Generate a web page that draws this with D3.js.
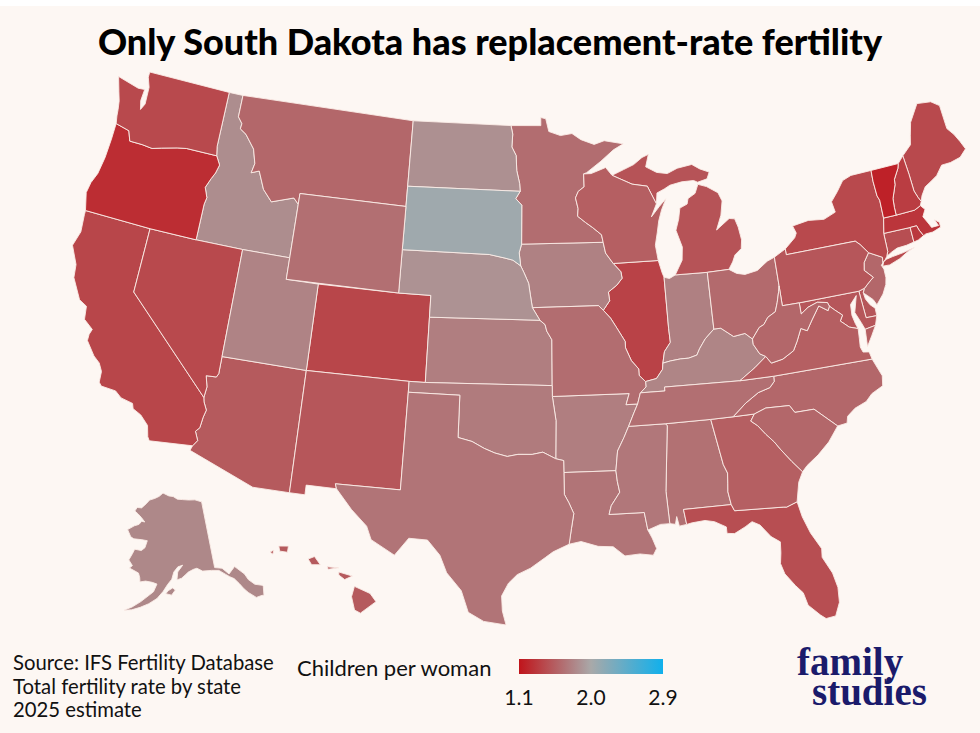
<!DOCTYPE html>
<html>
<head>
<meta charset="utf-8">
<script src="https://cdn.jsdelivr.net/npm/d3@7"></script>
<style>
  body { margin: 0; background: #ffffff; }
  text { font-family: Lato, "Open Sans", sans-serif; }
</style>
</head>
<body>
<svg id="chart" width="980" height="733"></svg>
<script>
// Total fertility rate by state, 2025 estimate
const states = ["AL","AK","AZ","AR","CA","CO","CT","DE","FL","GA","HI","ID","IL","IN","IA","KS","KY",
                "LA","ME","MD","MA","MI","MN","MS","MO","MT","NE","NV","NH","NJ","NM","NY","NC","ND",
                "OH","OK","OR","PA","RI","SC","SD","TN","TX","UT","VT","VA","WA","WV","WI","WY"];
const tfr = [1.66,1.80,1.52,1.74,1.40,1.40,1.45,1.50,1.45,1.55,1.52,1.83,1.38,1.75,1.76,1.74,1.78,
             1.68,1.42,1.50,1.30,1.48,1.64,1.70,1.64,1.60,1.86,1.42,1.35,1.60,1.50,1.42,1.60,1.85,
             1.62,1.72,1.25,1.50,1.32,1.60,2.06,1.65,1.68,1.77,1.18,1.55,1.42,1.60,1.55,1.65];

const colorDomain = [1.1, 2.0, 2.9];
const tickLabels = ["1.1", "2.0", "2.9"];
const sourceLines = ["Source: IFS Fertility Database", "Total fertility rate by state", "2025 estimate"];
const logoLines = ["family", "studies"];

// Simplified state outlines, [lon, lat] rings
const outlines = {
  WA: [[[-124.73,48.38],[-123.2,48.12],[-122.75,48.15],[-122.8,47.6],[-122.65,47.2],[-122.45,47.5],[-122.5,48.3],[-122.75,48.75],[-122.75,49.0],[-117.03,49.0],[-117.03,46.42],[-116.92,45.99],[-118.98,46.0],[-119.6,45.92],[-120.6,45.73],[-121.2,45.6],[-121.9,45.65],[-122.75,45.65],[-123.0,46.1],[-123.95,46.25],[-124.05,46.6],[-124.1,46.9],[-124.2,47.3],[-124.4,47.7]]],
  OR: [[[-123.95,46.25],[-123.0,46.1],[-122.75,45.65],[-121.9,45.65],[-121.2,45.6],[-120.6,45.73],[-119.6,45.92],[-118.98,46.0],[-116.92,45.99],[-116.6,45.6],[-116.75,45.2],[-116.95,44.9],[-117.2,44.45],[-116.95,44.0],[-117.03,43.68],[-117.03,42.0],[-120.0,42.0],[-124.21,42.0],[-124.5,42.8],[-124.4,43.3],[-124.15,43.8],[-124.0,44.6],[-123.95,45.5]]],
  ID: [[[-117.03,49.0],[-116.05,49.0],[-116.05,47.98],[-115.72,47.7],[-115.75,47.45],[-115.3,47.25],[-114.6,46.65],[-114.33,46.0],[-114.45,45.55],[-113.95,45.7],[-113.45,44.9],[-112.8,44.4],[-111.4,44.75],[-111.05,44.5],[-111.05,42.0],[-114.05,42.0],[-117.03,42.0],[-117.03,43.68],[-116.95,44.0],[-117.2,44.45],[-116.95,44.9],[-116.75,45.2],[-116.6,45.6],[-116.92,45.99],[-117.03,46.42]]],
  MT: [[[-116.05,49.0],[-104.05,49.0],[-104.05,45.0],[-111.05,45.0],[-111.05,44.5],[-111.4,44.75],[-112.8,44.4],[-113.45,44.9],[-113.95,45.7],[-114.45,45.55],[-114.33,46.0],[-114.6,46.65],[-115.3,47.25],[-115.75,47.45],[-115.72,47.7],[-116.05,47.98]]],
  WY: [[[-111.05,45.0],[-104.05,45.0],[-104.05,43.0],[-104.05,41.0],[-111.05,41.0],[-111.05,42.0],[-111.05,44.5]]],
  UT: [[[-114.05,42.0],[-111.05,42.0],[-111.05,41.0],[-109.05,41.0],[-109.05,37.0],[-114.05,37.0]]],
  NV: [[[-120.0,42.0],[-117.03,42.0],[-114.05,42.0],[-114.05,37.0],[-114.05,36.2],[-114.15,36.03],[-114.74,36.0],[-114.57,35.5],[-114.63,35.0],[-120.0,39.0]]],
  CA: [[[-124.21,42.0],[-120.0,42.0],[-120.0,39.0],[-114.63,35.0],[-114.57,34.8],[-114.35,34.45],[-114.45,34.1],[-114.52,33.6],[-114.72,33.4],[-114.5,33.0],[-114.72,32.72],[-117.12,32.53],[-117.25,32.7],[-117.4,33.2],[-117.9,33.6],[-118.4,33.8],[-118.5,34.03],[-119.2,34.15],[-119.6,34.4],[-120.45,34.45],[-120.62,34.6],[-120.65,35.1],[-120.9,35.45],[-121.3,35.7],[-121.9,36.3],[-121.9,36.6],[-121.8,36.85],[-122.4,37.2],[-122.5,37.8],[-123.0,38.0],[-123.7,38.9],[-123.8,39.5],[-124.35,40.3],[-124.1,41.0],[-124.2,41.8]]],
  AZ: [[[-114.05,37.0],[-109.05,37.0],[-109.05,31.33],[-111.07,31.33],[-114.81,32.49],[-114.72,32.72],[-114.5,33.0],[-114.72,33.4],[-114.52,33.6],[-114.45,34.1],[-114.35,34.45],[-114.57,34.8],[-114.63,35.0],[-114.57,35.5],[-114.74,36.0],[-114.15,36.03],[-114.05,36.2]]],
  CO: [[[-109.05,41.0],[-104.05,41.0],[-102.05,41.0],[-102.05,40.0],[-102.05,37.0],[-103.0,37.0],[-109.05,37.0]]],
  NM: [[[-109.05,37.0],[-103.0,37.0],[-103.0,36.5],[-103.04,32.0],[-106.62,32.0],[-106.53,31.78],[-108.2,31.78],[-108.2,31.33],[-109.05,31.33]]],
  TX: [[[-103.0,36.5],[-100.0,36.5],[-100.0,34.56],[-99.2,34.4],[-98.5,34.1],[-97.9,33.9],[-97.2,33.75],[-96.6,33.85],[-95.8,33.85],[-95.2,33.95],[-94.48,33.64],[-94.04,33.55],[-94.04,33.0],[-94.04,31.99],[-93.8,31.6],[-93.55,31.1],[-93.7,30.4],[-93.84,29.69],[-94.7,29.35],[-95.1,29.1],[-95.9,28.6],[-96.6,28.3],[-97.05,27.9],[-97.4,27.3],[-97.35,26.6],[-97.15,25.95],[-98.3,26.1],[-99.1,26.5],[-99.5,27.5],[-100.3,28.3],[-100.7,29.1],[-101.4,29.77],[-102.4,29.8],[-103.1,28.97],[-104.4,29.6],[-104.7,30.2],[-105.6,30.9],[-106.53,31.78],[-106.62,32.0],[-103.04,32.0]]],
  OK: [[[-103.0,37.0],[-102.05,37.0],[-94.62,37.0],[-94.62,36.5],[-94.43,35.39],[-94.48,33.64],[-95.2,33.95],[-95.8,33.85],[-96.6,33.85],[-97.2,33.75],[-97.9,33.9],[-98.5,34.1],[-99.2,34.4],[-100.0,34.56],[-100.0,36.5],[-103.0,36.5]]],
  KS: [[[-102.05,40.0],[-95.31,40.0],[-95.0,39.8],[-94.9,39.5],[-94.6,39.1],[-94.62,37.0],[-102.05,37.0]]],
  NE: [[[-104.05,43.0],[-98.5,43.0],[-97.5,42.85],[-97.0,42.76],[-96.5,42.5],[-96.3,42.2],[-96.0,41.7],[-95.9,41.2],[-95.77,40.58],[-95.31,40.0],[-102.05,40.0],[-102.05,41.0],[-104.05,41.0]]],
  SD: [[[-104.05,45.94],[-96.56,45.94],[-96.85,45.6],[-96.45,45.3],[-96.45,43.5],[-96.6,43.1],[-96.5,42.5],[-97.0,42.76],[-97.5,42.85],[-98.5,43.0],[-104.05,43.0]]],
  ND: [[[-104.05,49.0],[-97.23,49.0],[-97.1,48.6],[-97.15,48.0],[-96.85,47.6],[-96.8,46.9],[-96.6,46.3],[-96.56,45.94],[-104.05,45.94]]],
  MN: [[[-97.23,49.0],[-95.15,49.0],[-95.15,49.38],[-94.8,49.32],[-94.6,48.72],[-93.8,48.52],[-93.0,48.6],[-92.4,48.3],[-91.5,48.05],[-90.8,48.2],[-89.5,48.0],[-90.2,47.75],[-91.1,47.25],[-92.1,46.75],[-92.3,46.7],[-92.3,46.1],[-92.7,45.9],[-92.9,45.6],[-92.75,45.1],[-92.8,44.75],[-92.3,44.45],[-91.85,44.2],[-91.3,43.85],[-91.22,43.5],[-96.45,43.5],[-96.45,45.3],[-96.85,45.6],[-96.56,45.94],[-96.6,46.3],[-96.8,46.9],[-96.85,47.6],[-97.15,48.0],[-97.1,48.6]]],
  IA: [[[-96.45,43.5],[-91.22,43.5],[-91.1,43.0],[-90.65,42.5],[-90.2,42.1],[-90.15,41.8],[-90.5,41.5],[-91.05,41.2],[-91.0,40.8],[-91.42,40.38],[-91.7,40.6],[-95.77,40.58],[-95.9,41.2],[-96.0,41.7],[-96.3,42.2],[-96.5,42.5],[-96.6,43.1]]],
  MO: [[[-95.77,40.58],[-91.7,40.6],[-91.42,40.38],[-91.0,40.0],[-90.7,39.6],[-90.2,38.9],[-90.2,38.6],[-89.9,38.0],[-89.5,37.6],[-89.5,37.3],[-89.15,37.0],[-89.15,36.75],[-89.5,36.5],[-89.7,36.0],[-90.37,36.0],[-90.15,36.5],[-94.62,36.5],[-94.62,37.0],[-94.6,39.1],[-94.9,39.5],[-95.0,39.8],[-95.31,40.0]]],
  AR: [[[-94.62,36.5],[-90.15,36.5],[-90.37,36.0],[-89.7,36.0],[-89.95,35.6],[-90.3,35.0],[-90.6,34.5],[-91.0,33.9],[-91.15,33.0],[-94.04,33.0],[-94.04,33.55],[-94.48,33.64],[-94.43,35.39]]],
  LA: [[[-94.04,33.0],[-91.15,33.0],[-91.1,32.5],[-91.0,32.0],[-91.5,31.4],[-91.64,31.0],[-89.73,31.0],[-89.6,30.18],[-89.4,29.8],[-89.2,29.3],[-89.4,29.0],[-90.1,29.1],[-90.9,29.05],[-91.5,29.5],[-92.3,29.55],[-93.2,29.8],[-93.84,29.69],[-93.7,30.4],[-93.55,31.1],[-93.8,31.6],[-94.04,31.99]]],
  MS: [[[-90.3,35.0],[-88.2,35.0],[-88.1,34.9],[-88.47,31.9],[-88.4,30.4],[-88.9,30.4],[-89.6,30.18],[-89.73,31.0],[-91.64,31.0],[-91.5,31.4],[-91.0,32.0],[-91.1,32.5],[-91.15,33.0],[-91.0,33.9],[-90.6,34.5]]],
  TN: [[[-90.3,35.0],[-89.95,35.6],[-89.7,36.0],[-89.5,36.5],[-88.07,36.5],[-88.07,36.68],[-83.67,36.6],[-81.68,36.59],[-81.7,36.35],[-82.0,36.1],[-82.7,35.95],[-83.5,35.55],[-84.32,35.0],[-85.6,35.0],[-88.2,35.0]]],
  KY: [[[-89.15,37.0],[-88.5,37.1],[-88.1,37.5],[-88.05,37.78],[-87.6,37.85],[-87.0,37.9],[-86.5,37.9],[-86.0,38.0],[-85.8,38.28],[-85.4,38.7],[-84.82,39.1],[-84.4,39.1],[-83.7,38.65],[-83.0,38.72],[-82.6,38.42],[-82.6,38.17],[-82.3,37.7],[-81.97,37.54],[-82.7,37.1],[-83.67,36.6],[-88.07,36.68],[-88.07,36.5],[-89.5,36.5],[-89.15,36.75]]],
  IL: [[[-87.8,42.49],[-90.65,42.5],[-90.2,42.1],[-90.15,41.8],[-90.5,41.5],[-91.05,41.2],[-91.0,40.8],[-91.42,40.38],[-91.0,40.0],[-90.7,39.6],[-90.2,38.9],[-90.2,38.6],[-89.9,38.0],[-89.5,37.6],[-89.5,37.3],[-89.15,37.0],[-88.5,37.1],[-88.1,37.5],[-88.05,37.78],[-87.9,38.3],[-87.5,38.7],[-87.53,39.35],[-87.53,41.7],[-87.62,41.9]]],
  IN: [[[-87.53,41.7],[-87.53,39.35],[-87.5,38.7],[-87.9,38.3],[-88.05,37.78],[-87.6,37.85],[-87.0,37.9],[-86.5,37.9],[-86.0,38.0],[-85.8,38.28],[-85.4,38.7],[-84.82,39.1],[-84.81,41.72],[-86.82,41.76],[-87.2,41.62]]],
  OH: [[[-84.81,41.72],[-83.45,41.73],[-83.0,41.5],[-82.5,41.4],[-81.7,41.5],[-81.0,41.85],[-80.52,41.98],[-80.52,40.64],[-80.6,40.4],[-80.8,39.9],[-81.0,39.5],[-81.5,39.3],[-81.8,39.0],[-82.1,38.9],[-82.6,38.42],[-83.0,38.72],[-83.7,38.65],[-84.4,39.1],[-84.82,39.1]]],
  WV: [[[-82.6,38.42],[-82.1,38.9],[-81.8,39.0],[-81.5,39.3],[-81.0,39.5],[-80.8,39.9],[-80.6,40.4],[-80.52,40.64],[-80.52,39.72],[-79.48,39.72],[-79.48,39.2],[-79.0,39.45],[-78.4,39.6],[-77.8,39.5],[-77.72,39.32],[-77.85,39.13],[-78.35,39.42],[-78.9,38.85],[-79.3,38.4],[-79.65,38.55],[-80.0,38.0],[-80.3,37.6],[-81.0,37.3],[-81.7,37.2],[-81.97,37.54],[-82.3,37.7],[-82.6,38.17]]],
  PA: [[[-80.52,41.98],[-80.52,40.64],[-80.52,39.72],[-79.48,39.72],[-75.79,39.72],[-75.41,39.8],[-75.1,40.0],[-74.75,40.2],[-75.2,40.6],[-75.1,40.95],[-74.7,41.35],[-75.1,41.8],[-75.35,42.0],[-79.76,42.0],[-79.76,42.27]]],
  NY: [[[-79.76,42.0],[-75.35,42.0],[-75.1,41.8],[-74.7,41.35],[-73.92,41.0],[-73.97,40.75],[-73.8,40.85],[-73.65,40.99],[-73.52,41.2],[-73.5,42.05],[-73.28,42.74],[-73.25,43.58],[-73.35,43.8],[-73.38,44.5],[-73.34,45.01],[-74.7,45.0],[-75.3,44.85],[-75.8,44.4],[-76.3,44.0],[-76.2,43.5],[-77.0,43.28],[-78.0,43.37],[-79.05,43.25],[-78.9,42.9],[-79.05,42.7],[-79.76,42.27]],
       [[-74.03,40.6],[-73.9,40.8],[-73.7,40.87],[-73.3,40.92],[-72.6,40.98],[-71.86,41.08],[-72.3,40.98],[-72.9,40.75],[-73.6,40.58]]],
  NJ: [[[-74.7,41.35],[-73.92,41.0],[-73.97,40.75],[-74.1,40.65],[-74.0,40.45],[-74.0,40.05],[-74.1,39.75],[-74.4,39.35],[-74.9,38.93],[-75.05,39.2],[-75.35,39.45],[-75.55,39.6],[-75.41,39.8],[-75.1,40.0],[-74.75,40.2],[-75.2,40.6],[-75.1,40.95]]],
  DE: [[[-75.79,39.72],[-75.41,39.8],[-75.55,39.6],[-75.5,39.3],[-75.3,39.0],[-75.05,38.8],[-75.05,38.45],[-75.7,38.46]]],
  MD: [[[-79.48,39.72],[-75.79,39.72],[-75.7,38.46],[-75.05,38.45],[-75.25,38.03],[-75.9,37.95],[-76.05,38.3],[-76.3,38.8],[-76.1,39.3],[-76.0,39.55],[-76.45,39.2],[-76.5,38.7],[-76.4,38.3],[-76.3,38.05],[-76.8,38.2],[-77.05,38.4],[-77.25,38.55],[-77.05,38.8],[-77.45,39.1],[-77.72,39.32],[-77.8,39.5],[-78.4,39.6],[-79.0,39.45],[-79.48,39.2]]],
  VA: [[[-83.67,36.6],[-82.7,37.1],[-81.97,37.54],[-81.7,37.2],[-81.0,37.3],[-80.3,37.6],[-80.0,38.0],[-79.65,38.55],[-79.3,38.4],[-78.9,38.85],[-78.35,39.42],[-77.85,39.13],[-77.72,39.32],[-77.45,39.1],[-77.05,38.8],[-77.25,38.55],[-77.05,38.4],[-76.8,38.2],[-76.3,38.05],[-76.35,37.6],[-76.4,37.2],[-76.3,36.95],[-75.95,36.9],[-75.87,36.55],[-81.68,36.59]],
       [[-75.25,38.03],[-75.9,37.95],[-75.98,37.15],[-75.6,37.6]]],
  NC: [[[-84.32,35.0],[-83.1,35.0],[-82.4,35.2],[-81.05,35.15],[-80.8,34.8],[-79.7,34.8],[-78.55,33.85],[-78.0,33.9],[-77.9,34.2],[-77.4,34.5],[-76.7,34.7],[-76.3,35.0],[-75.6,35.25],[-75.5,35.7],[-75.87,36.55],[-81.68,36.59],[-81.7,36.35],[-82.0,36.1],[-82.7,35.95],[-83.5,35.55]]],
  SC: [[[-83.1,35.0],[-83.35,34.7],[-83.0,34.45],[-82.6,34.0],[-82.2,33.6],[-81.9,33.2],[-81.4,32.6],[-80.9,32.05],[-80.6,32.3],[-79.9,32.7],[-79.2,33.2],[-78.55,33.85],[-79.7,34.8],[-80.8,34.8],[-81.05,35.15],[-82.4,35.2]]],
  GA: [[[-85.6,35.0],[-84.32,35.0],[-83.1,35.0],[-83.35,34.7],[-83.0,34.45],[-82.6,34.0],[-82.2,33.6],[-81.9,33.2],[-81.4,32.6],[-80.9,32.05],[-81.2,31.6],[-81.45,30.72],[-82.05,30.55],[-82.2,30.57],[-84.86,30.7],[-85.0,31.0],[-85.1,31.6],[-85.05,32.0],[-85.0,32.46],[-85.18,32.87]]],
  FL: [[[-87.6,31.0],[-85.0,31.0],[-84.86,30.7],[-82.2,30.57],[-82.05,30.55],[-81.45,30.72],[-81.3,30.0],[-81.0,29.2],[-80.55,28.4],[-80.6,28.0],[-80.2,27.2],[-80.05,26.5],[-80.1,25.8],[-80.4,25.2],[-80.9,25.15],[-81.15,25.35],[-81.7,25.9],[-81.85,26.5],[-82.2,26.9],[-82.65,27.5],[-82.8,28.0],[-82.7,28.5],[-82.65,29.0],[-83.1,29.3],[-83.6,29.9],[-84.0,30.1],[-84.4,29.9],[-85.0,29.65],[-85.4,29.7],[-85.4,30.0],[-86.0,30.3],[-86.5,30.4],[-87.2,30.35],[-87.5,30.3]]],
  AL: [[[-88.2,35.0],[-85.6,35.0],[-85.18,32.87],[-85.0,32.46],[-85.05,32.0],[-85.1,31.6],[-85.0,31.0],[-87.6,31.0],[-87.5,30.3],[-87.9,30.25],[-88.0,30.7],[-88.1,30.35],[-88.4,30.4],[-88.47,31.9],[-88.1,34.9]]],
  WI: [[[-92.3,46.7],[-91.8,46.7],[-91.2,46.85],[-90.8,46.95],[-90.4,46.57],[-89.1,46.1],[-88.1,45.95],[-87.6,45.1],[-88.0,44.52],[-87.45,44.95],[-86.95,45.3],[-87.3,44.8],[-87.55,44.3],[-87.7,43.8],[-87.9,43.2],[-87.8,42.49],[-90.65,42.5],[-91.1,43.0],[-91.22,43.5],[-91.3,43.85],[-91.85,44.2],[-92.3,44.45],[-92.8,44.75],[-92.75,45.1],[-92.9,45.6],[-92.7,45.9],[-92.3,46.1]]],
  MI: [[[-86.82,41.76],[-84.81,41.72],[-83.45,41.73],[-83.15,42.05],[-82.95,42.35],[-82.5,42.6],[-82.4,43.0],[-82.5,43.6],[-82.65,44.0],[-83.0,44.05],[-83.9,43.6],[-83.5,44.25],[-83.3,44.9],[-83.5,45.3],[-84.2,45.65],[-84.75,45.8],[-85.0,45.4],[-85.5,45.2],[-85.6,44.95],[-86.1,44.8],[-86.25,44.3],[-86.5,43.8],[-86.2,43.0],[-86.3,42.4]],
       [[-90.4,46.57],[-89.6,46.8],[-88.9,47.0],[-88.3,47.3],[-87.85,47.42],[-88.1,46.85],[-87.4,46.55],[-86.7,46.45],[-86.0,46.65],[-85.0,46.75],[-84.5,46.5],[-83.9,46.3],[-84.1,46.0],[-84.75,45.9],[-85.0,46.0],[-85.8,46.0],[-86.6,45.9],[-87.0,45.75],[-87.5,45.6],[-87.6,45.1],[-88.1,45.95],[-89.1,46.1]]],
  VT: [[[-73.34,45.01],[-71.5,45.01],[-71.6,44.8],[-72.0,44.35],[-72.05,44.1],[-72.4,43.5],[-72.45,43.1],[-72.46,42.73],[-73.28,42.74],[-73.25,43.58],[-73.35,43.8],[-73.38,44.5]]],
  NH: [[[-71.5,45.01],[-71.08,45.3],[-71.0,44.4],[-70.97,43.6],[-70.82,43.25],[-70.7,43.05],[-70.82,42.87],[-71.25,42.74],[-72.46,42.73],[-72.45,43.1],[-72.4,43.5],[-72.05,44.1],[-72.0,44.35],[-71.6,44.8]]],
  ME: [[[-71.08,45.3],[-70.4,45.7],[-70.25,46.1],[-69.99,46.7],[-69.23,47.46],[-68.3,47.36],[-67.8,47.07],[-67.78,45.95],[-67.45,45.6],[-67.2,45.2],[-67.0,44.8],[-67.5,44.5],[-68.2,44.4],[-68.8,44.4],[-69.3,44.0],[-69.8,43.8],[-70.2,43.65],[-70.55,43.3],[-70.7,43.05],[-70.82,43.25],[-70.97,43.6],[-71.0,44.4]]],
  MA: [[[-73.5,42.05],[-73.28,42.74],[-72.46,42.73],[-71.25,42.74],[-70.82,42.87],[-70.6,42.65],[-70.85,42.35],[-70.6,41.95],[-70.5,41.77],[-70.05,41.77],[-70.2,42.07],[-69.95,41.9],[-69.95,41.67],[-70.5,41.55],[-70.95,41.55],[-71.12,41.5],[-71.3,41.8],[-71.38,42.02],[-71.8,42.02]]],
  RI: [[[-71.8,42.02],[-71.38,42.02],[-71.3,41.8],[-71.12,41.5],[-71.5,41.37],[-71.8,41.33]]],
  CT: [[[-73.5,42.05],[-71.8,42.02],[-71.8,41.33],[-72.3,41.27],[-72.9,41.25],[-73.3,41.13],[-73.65,40.99],[-73.52,41.2]]],
  AK: [[[-141.0,69.65],[-143.5,70.1],[-146.0,70.2],[-148.5,70.35],[-150.5,70.45],[-152.2,70.85],[-154.0,70.95],[-156.5,71.35],[-158.0,70.85],[-159.8,70.5],[-161.8,70.2],[-163.0,69.6],[-164.5,68.95],[-166.2,68.9],[-166.8,68.35],[-165.5,68.05],[-164.0,67.6],[-162.6,67.05],[-163.7,67.1],[-164.5,66.6],[-166.0,66.3],[-168.0,65.6],[-166.5,64.7],[-165.4,64.5],[-163.0,64.55],[-161.0,64.5],[-161.5,63.5],[-162.5,63.05],[-164.6,63.1],[-165.0,62.5],[-165.8,61.5],[-164.5,60.8],[-165.2,60.4],[-162.5,59.9],[-162.0,59.3],[-161.8,58.7],[-160.3,58.9],[-158.5,58.8],[-157.2,58.6],[-158.0,57.5],[-161.0,56.0],[-163.0,55.1],[-164.8,54.5],[-163.0,54.7],[-161.0,55.2],[-159.0,55.8],[-157.0,56.6],[-155.5,57.6],[-154.3,58.6],[-153.2,59.3],[-152.6,60.3],[-151.4,61.0],[-150.0,61.2],[-151.5,60.3],[-151.8,59.2],[-150.5,59.4],[-149.5,59.8],[-148.5,60.2],[-147.0,60.5],[-146.0,60.6],[-144.5,60.1],[-142.0,60.0],[-140.0,59.8],[-138.5,59.1],[-137.5,58.6],[-136.5,58.2],[-135.5,57.3],[-134.8,56.5],[-134.0,55.8],[-132.5,54.8],[-131.0,54.8],[-130.6,54.7],[-130.0,55.9],[-130.1,56.1],[-131.8,56.6],[-133.0,57.5],[-133.5,58.4],[-135.5,59.8],[-137.5,59.0],[-139.0,60.0],[-141.0,60.3]],
       [[-154.8,57.3],[-153.3,57.1],[-152.3,57.8],[-153.0,58.1],[-154.2,57.7]]],
  HI: [[[-155.9,20.25],[-155.1,19.9],[-154.8,19.5],[-155.6,18.95],[-155.9,19.1],[-156.05,19.75]],
       [[-156.7,20.95],[-156.0,20.75],[-156.4,20.58],[-156.7,20.8]],
       [[-157.3,21.2],[-156.7,21.15],[-157.25,21.08]],
       [[-158.28,21.58],[-157.95,21.7],[-157.65,21.3],[-158.1,21.3]],
       [[-159.8,22.2],[-159.3,22.2],[-159.35,21.9],[-159.75,21.95]],
       [[-160.25,21.9],[-160.05,22.0],[-160.1,21.8]]]
};

const width = 980, height = 733;
const svg = d3.select("#chart");

// page background
svg.append("rect")
    .attr("x", 0).attr("y", 6)
    .attr("width", width).attr("height", height - 6)
    .attr("fill", "#fdf7f3");

// Build features; make every ring wind the way d3-geo expects
function closeRing(r) {
  const f = r[0], l = r[r.length - 1];
  return (f[0] === l[0] && f[1] === l[1]) ? r.slice() : r.concat([f]);
}
const features = states.map((id, i) => {
  const polys = outlines[id].map(r => {
    let ring = closeRing(r);
    if (d3.geoArea({type: "Polygon", coordinates: [ring]}) > 2 * Math.PI) ring = ring.reverse();
    return [ring];
  });
  return {type: "Feature", id: id, properties: {tfr: tfr[i]},
          geometry: {type: "MultiPolygon", coordinates: polys}};
});

const byId = id => features.find(f => f.id === id);
const lower48 = {type: "FeatureCollection", features: features.filter(f => f.id !== "AK" && f.id !== "HI")};

// fit a projection to a width, then slide it so the shape's top sits at y0
function placeInset(proj, feature, x0, x1, y0) {
  proj.fitWidth(x1 - x0, feature);
  const b = d3.geoPath(proj).bounds(feature);
  const t = proj.translate();
  return proj.translate([t[0] + x0 - b[0][0], t[1] + y0 - b[0][1]]);
}

// Lower 48 plus two insets, each with its own conic projection
const projMain = d3.geoAlbers().fitExtent([[72, 72], [966, 625]], lower48);
const projAK = placeInset(
    d3.geoConicEqualArea().rotate([154, 0]).center([-2, 58.5]).parallels([55, 65]),
    byId("AK"), 124, 264, 493);
const projHI = placeInset(
    d3.geoConicEqualArea().rotate([157, 0]).center([-3, 19.9]).parallels([8, 18]),
    byId("HI"), 270, 376, 546);

const pathFor = d => d3.geoPath(d.id === "AK" ? projAK : d.id === "HI" ? projHI : projMain)(d);

const color = d3.scaleLinear()
    .domain(colorDomain)
    .range(["#c0141b", "#a9a9a9", "#10b0ec"])
    .interpolate(d3.interpolateRgb);

svg.append("g")
    .attr("class", "states")
  .selectAll("path")
  .data(features)
  .join("path")
    .attr("d", pathFor)
    .attr("fill", d => color(d.properties.tfr))
    .attr("stroke", "#fbece6")
    .attr("stroke-width", 0.9)
    .attr("stroke-linejoin", "round");

// Title
svg.append("text")
    .attr("x", width / 2)
    .attr("y", 55)
    .attr("text-anchor", "middle")
    .attr("font-size", 36)
    .attr("font-weight", 900)
    .attr("fill", "#000")
    .text("Only South Dakota has replacement-rate fertility");

// Source block
svg.append("g")
    .selectAll("text")
    .data(sourceLines)
    .join("text")
    .attr("x", 13)
    .attr("y", (d, i) => 670 + i * 23.5)
    .attr("font-size", 20.3)
    .attr("fill", "#111")
    .text(d => d);

// Legend
const legendX = d3.scaleLinear().domain([colorDomain[0], colorDomain[2]]).range([519, 663]);
const defs = svg.append("defs");
const grad = defs.append("linearGradient").attr("id", "legendGrad");
grad.selectAll("stop")
    .data(d3.range(0, 1.0001, 0.1))
    .join("stop")
    .attr("offset", d => d)
    .attr("stop-color", d => color(colorDomain[0] + d * (colorDomain[2] - colorDomain[0])));

svg.append("text")
    .attr("x", 297)
    .attr("y", 676)
    .attr("font-size", 22)
    .attr("fill", "#111")
    .text("Children per woman");

svg.append("rect")
    .attr("x", legendX(colorDomain[0]))
    .attr("y", 659)
    .attr("width", legendX(colorDomain[2]) - legendX(colorDomain[0]))
    .attr("height", 15)
    .attr("fill", "url(#legendGrad)");

svg.append("g")
    .selectAll("text")
    .data(colorDomain)
    .join("text")
    .attr("x", d => legendX(d))
    .attr("y", 705)
    .attr("text-anchor", "middle")
    .attr("font-size", 21)
    .attr("fill", "#111")
    .text((d, i) => tickLabels[i]);

// Logo as one text block, two lines
svg.append("text")
    .attr("fill", "#1b1b6b")
    .attr("font-size", 39)
    .attr("font-weight", 700)
    .style("font-family", "'Liberation Serif', 'DejaVu Serif', serif")
  .selectAll("tspan")
  .data(logoLines)
  .join("tspan")
    .attr("x", (d, i) => i === 0 ? 797 : 812)
    .attr("y", (d, i) => i === 0 ? 675 : 705)
    .text(d => d);
</script>
</body>
</html>
